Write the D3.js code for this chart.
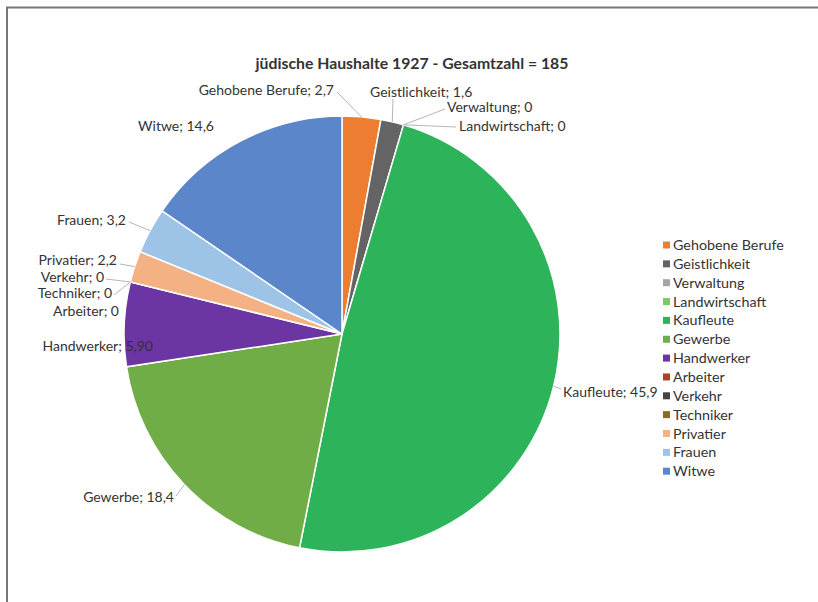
<!DOCTYPE html>
<html>
<head>
<meta charset="utf-8">
<script src="https://cdn.jsdelivr.net/npm/d3@7"></script>
<style>
  html, body { margin: 0; padding: 0; background: #fff; }
  svg { display: block; }
  text { font-family: Lato, "Open Sans", sans-serif; fill: #333333; }
</style>
</head>
<body>
<svg id="chart" width="818" height="602"></svg>
<script>
// Jewish households 1927, by occupation group
const categories = [
  "Gehobene Berufe", "Geistlichkeit", "Verwaltung", "Landwirtschaft",
  "Kaufleute", "Gewerbe", "Handwerker", "Arbeiter", "Verkehr",
  "Techniker", "Privatier", "Frauen", "Witwe"
];
const values = [2.7, 1.6, 0, 0, 45.9, 18.4, 5.90, 0, 0, 0, 2.2, 3.2, 14.6];
const valueLabels = ["2,7", "1,6", "0", "0", "45,9", "18,4", "5,90", "0", "0", "0", "2,2", "3,2", "14,6"];
const title = "jüdische Haushalte 1927 - Gesamtzahl = 185";

const colors = [
  "#ED7D31", "#646464", "#A5A5A5", "#7CCB5A", "#2DB35A", "#70AD47",
  "#6B35A3", "#A9461D", "#444444", "#8A6D1E", "#F4B183", "#9DC3E6", "#5B86CA"
];

// label placement: text anchor point and leader start (null = no leader)
const labelLayout = {
  "Gehobene Berufe": { x: 334, y: 90, anchor: "end", leader: [337, 92] },
  "Geistlichkeit":   { x: 370, y: 92, anchor: "start", leader: [393, 99] },
  "Verwaltung":      { x: 447, y: 107, anchor: "start", leader: [445, 109] },
  "Landwirtschaft":  { x: 459, y: 126, anchor: "start", leader: [456, 127] },
  "Kaufleute":       { x: 563, y: 392, anchor: "start", leader: [561, 389] },
  "Gewerbe":         { x: 174, y: 497, anchor: "end", leader: [176, 496] },
  "Handwerker":      { x: 153, y: 346, anchor: "end", leader: null },
  "Arbeiter":        { x: 119, y: 311, anchor: "end", leader: null },
  "Verkehr":         { x: 104, y: 277.5, anchor: "end", leader: [106, 279] },
  "Techniker":       { x: 112, y: 293.5, anchor: "end", leader: [114, 295] },
  "Privatier":       { x: 117, y: 260.5, anchor: "end", leader: [120, 264] },
  "Frauen":          { x: 126, y: 220, anchor: "end", leader: [129, 222] },
  "Witwe":           { x: 214, y: 126, anchor: "end", leader: null }
};

const svg = d3.select("#chart");

// frame lines along top and left
svg.append("line").attr("x1", 6).attr("y1", 7.5).attr("x2", 818).attr("y2", 7.5)
  .attr("stroke", "#777").attr("stroke-width", 2);
svg.append("line").attr("x1", 7).attr("y1", 7).attr("x2", 7).attr("y2", 602)
  .attr("stroke", "#777").attr("stroke-width", 2);

svg.append("text")
  .attr("x", 412).attr("y", 63)
  .attr("dy", "0.35em")
  .attr("text-anchor", "middle")
  .style("font-size", "15.8px").style("font-weight", "700")
  .text(title);

const cx = 342, cy = 334, radius = 218;
const data = categories.map((c, i) => ({ name: c, value: values[i], label: valueLabels[i], color: colors[i] }));

const pie = d3.pie().value(d => d.value).sort(null);
const arcs = pie(data);
const arc = d3.arc().innerRadius(0).outerRadius(radius);

const g = svg.append("g").attr("transform", `translate(${cx},${cy})`);
g.selectAll("path.slice")
  .data(arcs.filter(a => a.data.value > 0))
  .join("path")
  .attr("class", "slice")
  .attr("d", arc)
  .attr("fill", a => a.data.color)
  .attr("stroke", "#fff")
  .attr("stroke-width", 1.5);

// leader lines from labels to slice edge
const edgePoint = a => {
  const ang = (a.startAngle + a.endAngle) / 2;
  return [cx + radius * Math.sin(ang), cy - radius * Math.cos(ang)];
};
arcs.forEach(a => {
  const L = labelLayout[a.data.name];
  if (!L.leader) return;
  const [ex, ey] = edgePoint(a);
  svg.append("line")
    .attr("x1", L.leader[0]).attr("y1", L.leader[1])
    .attr("x2", ex).attr("y2", ey)
    .attr("stroke", "#b5b5b5").attr("stroke-width", 1);
});

arcs.forEach(a => {
  const L = labelLayout[a.data.name];
  svg.append("text")
    .attr("x", L.x).attr("y", L.y)
    .attr("dy", "0.35em")
    .attr("text-anchor", L.anchor)
    .style("font-size", "14px")
    .text(`${a.data.name}; ${a.data.label}`);
});

// legend
const legend = svg.append("g");
const lx = 663, ly0 = 245, step = 18.85;
data.forEach((d, i) => {
  const y = ly0 + i * step;
  legend.append("rect")
    .attr("x", lx).attr("y", y - 3.5).attr("width", 7).attr("height", 7)
    .attr("fill", d.color);
  legend.append("text")
    .attr("x", lx + 10).attr("y", y).attr("dy", "0.35em")
    .style("font-size", "14.3px")
    .text(d.name);
});
</script>
</body>
</html>
